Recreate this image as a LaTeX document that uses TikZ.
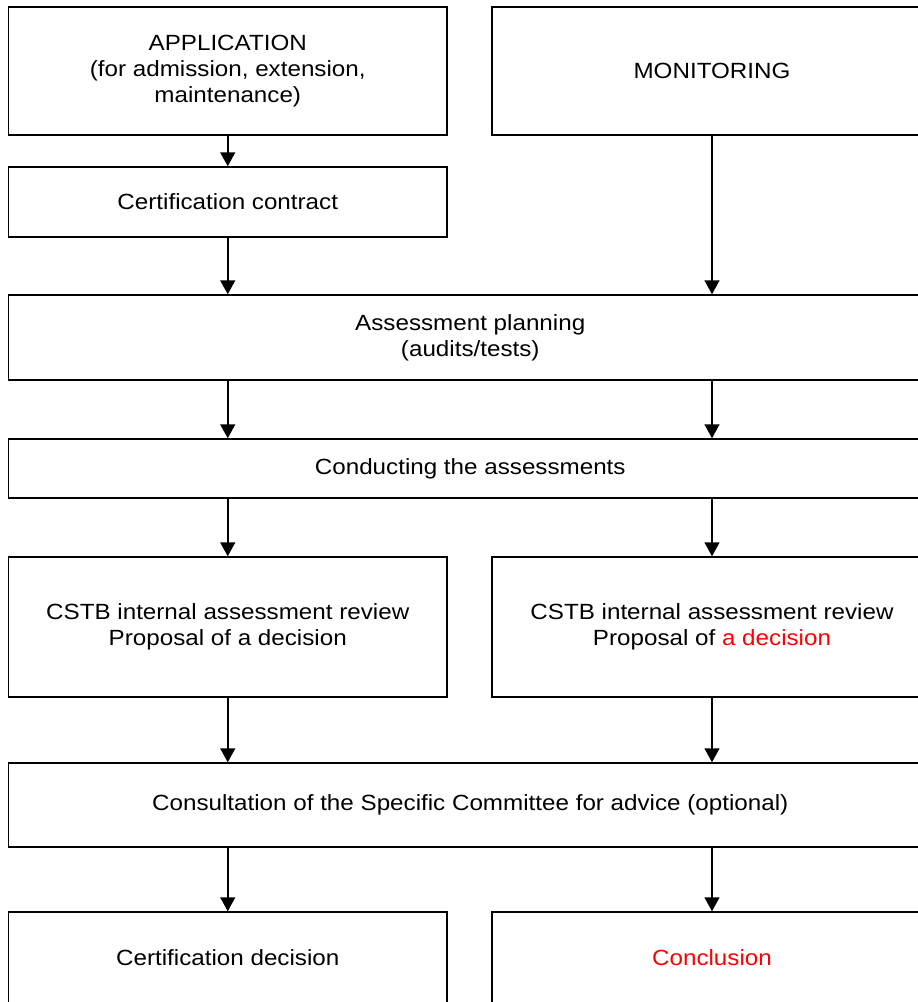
\documentclass[tikz,border=0pt]{standalone}
\usepackage{fontspec}
\setmainfont{Liberation Sans}[FakeStretch=1.1]
\usetikzlibrary{arrows.meta}
\begin{document}
\begin{tikzpicture}[x=1pt,y=-1pt,
  box/.style={draw=black, line width=1.5pt, rectangle, inner sep=0pt, align=center,
    font=\fontsize{22}{26}\selectfont, text=black},
  arr/.style={line width=1.5pt, -{Triangle[length=14pt,width=15pt]}}]
\useasboundingbox (0,0) rectangle (918,1002);
\clip (0,0) rectangle (918,1002);
\fill[white] (0,0) rectangle (918,1002);
\node[box, minimum width=438.5pt, minimum height=128pt] (app) at (227.75,71) {APPLICATION\\(for admission, extension,\\maintenance)};
\node[box, minimum width=440pt, minimum height=128pt] (mon) at (712,71) {MONITORING};
\node[box, minimum width=438.5pt, minimum height=70pt] (con) at (227.75,202) {Certification contract};
\node[box, minimum width=923.5pt, minimum height=85pt] (plan) at (470.25,337.5) {Assessment planning\\(audits/tests)};
\node[box, minimum width=923.5pt, minimum height=59pt] (cond) at (470.25,468.5) {Conducting the assessments};
\node[box, minimum width=438.5pt, minimum height=140pt] (rev1) at (227.75,627) {CSTB internal assessment review\\Proposal of a decision};
\node[box, minimum width=440pt, minimum height=140pt] (rev2) at (712,627) {CSTB internal assessment review\\Proposal of \textcolor{red}{a decision}};
\node[box, minimum width=923.5pt, minimum height=84pt] (cons) at (470.25,805) {Consultation of the Specific Committee for advice (optional)};
\node[box, minimum width=438.5pt, minimum height=92pt] (dec) at (227.75,958) {Certification decision};
\node[box, minimum width=440pt, minimum height=92pt] (concl) at (712,958) {\textcolor{red}{Conclusion}};
\draw[arr] (app.south) -- (con.north);
\draw[arr] (con.south) -- (con.south |- plan.north);
\draw[arr] (mon.south) -- (mon.south |- plan.north);
\draw[arr] (con.south |- plan.south) -- (con.south |- cond.north);
\draw[arr] (mon.south |- plan.south) -- (mon.south |- cond.north);
\draw[arr] (rev1.north |- cond.south) -- (rev1.north);
\draw[arr] (rev2.north |- cond.south) -- (rev2.north);
\draw[arr] (rev1.south) -- (rev1.south |- cons.north);
\draw[arr] (rev2.south) -- (rev2.south |- cons.north);
\draw[arr] (dec.north |- cons.south) -- (dec.north);
\draw[arr] (concl.north |- cons.south) -- (concl.north);
\end{tikzpicture}
\end{document}
